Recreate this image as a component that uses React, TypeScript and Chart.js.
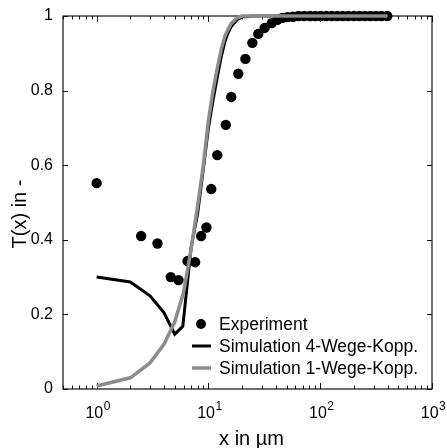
import React, { useEffect, useRef } from 'react';
import { Chart, registerables } from 'chart.js';

Chart.register(...registerables);

// ---- data ----
const expX = [1, 2.5, 3.5, 4.6, 5.4, 6.5, 7.6, 8.6, 9.6, 10.6, 12.0, 14.3, 16.0, 18.5, 21.4, 24.7, 27.9, 31.8, 36.8, 41.4,
  46, 51, 57, 64, 72, 81, 90, 101, 113, 127, 142, 159, 178, 200, 224, 251, 281, 315, 353, 398];
const expY = [0.552, 0.41, 0.39, 0.30, 0.292, 0.343, 0.34, 0.41, 0.433, 0.536, 0.627, 0.708, 0.783, 0.845, 0.885, 0.928, 0.952, 0.968, 0.981, 0.99,
  0.995, 0.997, 0.998, 1, 1, 1, 1, 1, 1, 1, 1, 1, 1, 1, 1, 1, 1, 1, 1, 1];

const sim4X = [1, 2, 3, 4, 5, 5.9, 7, 8, 9, 10, 11, 12, 13, 14, 15, 16, 18, 20, 25, 50, 100, 200, 400];
const sim4Y = [0.30, 0.287, 0.25, 0.205, 0.147, 0.168, 0.38, 0.47, 0.59, 0.70, 0.775, 0.836, 0.89, 0.93, 0.955, 0.972, 0.99, 0.997, 1, 1, 1, 1, 1];

const sim1X = [1, 2, 3, 4, 5, 6, 7, 8, 9, 10, 11, 12, 13, 14, 15, 16, 18, 20, 25, 50, 100, 200, 400];
const sim1Y = [0.008, 0.03, 0.07, 0.12, 0.18, 0.26, 0.375, 0.49, 0.60, 0.72, 0.80, 0.86, 0.91, 0.945, 0.965, 0.98, 0.995, 1, 1, 1, 1, 1, 1];

const seriesLabels = ['Experiment', 'Simulation 4-Wege-Kopp.', 'Simulation 1-Wege-Kopp.'];
const xMajorTicks = [1, 10, 100, 1000];
const xTickExponents = ['0', '1', '2', '3'];
const yTicks = [0, 0.2, 0.4, 0.6, 0.8, 1];
const yTickLabels = ['0', '0.2', '0.4', '0.6', '0.8', '1'];
const xTitle = 'x in µm';
const yTitle = 'T(x) in -';

const FONT = '"Liberation Sans", Arial, Helvetica, sans-serif';
const BLACK = '#000000';
const GRAY = '#8c8c8c';

const toPts = (xs: number[], ys: number[]) => xs.map((x, i) => ({ x, y: ys[i] }));

const framePlugin = {
  id: 'frameAxes',
  beforeDatasetsDraw(chart: any) {
    const { ctx, chartArea: a, scales } = chart;
    const xs = scales.x;
    const ys = scales.y;
    ctx.save();
    ctx.strokeStyle = '#111';
    ctx.lineWidth = 1.2;
    ctx.strokeRect(a.left, a.top, a.right - a.left, a.bottom - a.top);
    ctx.lineWidth = 1;
    // x ticks (major + minor), inward on bottom and top
    const ticks: { v: number; len: number }[] = [];
    for (const d of [0.1, 1, 10, 100]) {
      for (let k = 1; k <= 9; k++) {
        const v = k * d;
        if (v < xs.min || v > xs.max) continue;
        ticks.push({ v, len: k === 1 ? 6 : 3.5 });
      }
    }
    ticks.push({ v: 1000, len: 6 });
    ctx.beginPath();
    for (const t of ticks) {
      const px = Math.round(xs.getPixelForValue(t.v)) + 0.5;
      ctx.moveTo(px, a.bottom);
      ctx.lineTo(px, a.bottom - t.len);
      ctx.moveTo(px, a.top);
      ctx.lineTo(px, a.top + t.len);
    }
    for (const v of yTicks) {
      const py = Math.round(ys.getPixelForValue(v)) + 0.5;
      ctx.moveTo(a.left, py);
      ctx.lineTo(a.left + 5, py);
      ctx.moveTo(a.right, py);
      ctx.lineTo(a.right - 5, py);
    }
    ctx.stroke();

    // x tick labels with superscripts
    ctx.fillStyle = '#000';
    ctx.textBaseline = 'alphabetic';
    ctx.textAlign = 'left';
    xMajorTicks.forEach((v, i) => {
      const px = xs.getPixelForValue(v);
      ctx.font = `16px ${FONT}`;
      const wb = ctx.measureText('10').width;
      ctx.font = `12px ${FONT}`;
      const we = ctx.measureText(xTickExponents[i]).width;
      const x0 = px - (wb + we) / 2 + 1;
      ctx.font = `16px ${FONT}`;
      ctx.fillText('10', x0, 418);
      ctx.font = `12px ${FONT}`;
      ctx.fillText(xTickExponents[i], x0 + wb + 0.5, 410);
    });

    // y tick labels
    ctx.font = `16px ${FONT}`;
    ctx.textAlign = 'right';
    ctx.textBaseline = 'middle';
    yTicks.forEach((v, i) => {
      const py = ys.getPixelForValue(v);
      ctx.fillText(yTickLabels[i], a.left - 10, py);
    });

    // titles
    ctx.font = `20px ${FONT}`;
    ctx.textAlign = 'center';
    ctx.textBaseline = 'alphabetic';
    ctx.fillText(xTitle, (a.left + a.right) / 2 + 4, 445);
    ctx.save();
    ctx.translate(26, 214);
    ctx.rotate(-Math.PI / 2);
    ctx.fillText(yTitle, 0, 0);
    ctx.restore();
    ctx.restore();
  },
  afterDatasetsDraw(chart: any) {
    const { ctx, chartArea: a } = chart;
    ctx.save();
    const mx = a.left + 138;
    const tx = a.left + 156;
    const rows = [a.top + 308, a.top + 330, a.top + 352];
    ctx.font = `17.5px ${FONT}`;
    ctx.textAlign = 'left';
    ctx.textBaseline = 'middle';
    ctx.fillStyle = '#000';
    // experiment marker
    ctx.beginPath();
    ctx.arc(mx, rows[0], 5, 0, Math.PI * 2);
    ctx.fill();
    // line markers
    ctx.lineWidth = 3;
    ctx.strokeStyle = BLACK;
    ctx.beginPath();
    ctx.moveTo(mx - 9, rows[1]);
    ctx.lineTo(mx + 10, rows[1]);
    ctx.stroke();
    ctx.lineWidth = 3.5;
    ctx.strokeStyle = GRAY;
    ctx.beginPath();
    ctx.moveTo(mx - 9, rows[2]);
    ctx.lineTo(mx + 10, rows[2]);
    ctx.stroke();
    seriesLabels.forEach((s, i) => ctx.fillText(s, tx, rows[i] + 1));
    ctx.restore();
  },
};

export default function App() {
  const ref = useRef<HTMLCanvasElement | null>(null);
  useEffect(() => {
    document.body.style.margin = '0';
    document.body.style.background = '#fff';
    const canvas = ref.current;
    if (!canvas) return;
    const chart = new Chart(canvas, {
      type: 'scatter',
      data: {
        datasets: [
          {
            label: seriesLabels[0],
            data: toPts(expX, expY),
            showLine: false,
            pointRadius: 5.2,
            pointBackgroundColor: BLACK,
            pointBorderWidth: 0,
            pointHoverRadius: 5.2,
            clip: false,
            order: 3,
          },
          {
            label: seriesLabels[1],
            data: toPts(sim4X, sim4Y),
            showLine: true,
            borderColor: BLACK,
            borderWidth: 3,
            pointRadius: 0,
            tension: 0,
            clip: false,
            order: 2,
          },
          {
            label: seriesLabels[2],
            data: toPts(sim1X, sim1Y),
            showLine: true,
            borderColor: GRAY,
            borderWidth: 3.5,
            pointRadius: 0,
            tension: 0,
            clip: false,
            order: 1,
          },
        ],
      },
      options: {
        responsive: false,
        animation: false,
        devicePixelRatio: 1,
        layout: { padding: { left: 63, right: 15, top: 16, bottom: 59 } },
        plugins: { legend: { display: false }, tooltip: { enabled: false } },
        scales: {
          x: { type: 'logarithmic', min: 0.5, max: 1000, display: false },
          y: { type: 'linear', min: 0, max: 1, display: false },
        },
      },
      plugins: [framePlugin],
    });
    return () => chart.destroy();
  }, []);
  return (
    <div style={{ width: 447, height: 448, background: '#fff' }}>
      <canvas ref={ref} width={447} height={448} style={{ display: 'block' }} />
    </div>
  );
}
